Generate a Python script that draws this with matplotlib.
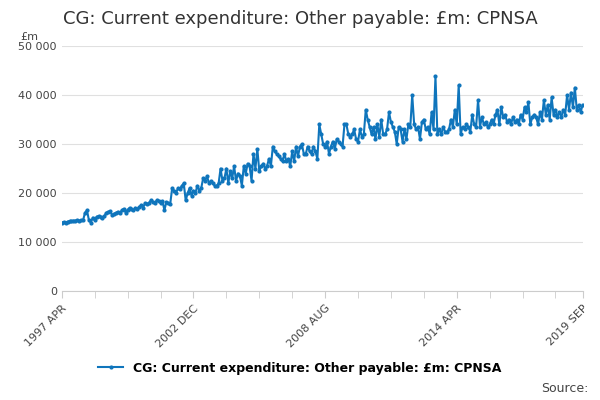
import numpy as np
import matplotlib.pyplot as plt

# monthly values, 1997 APR .. 2019 SEP (£m)
y1997 = [14000, 14100, 14000, 14200, 14300, 14300, 14400, 14400, 14500]
y1998 = [14400, 14500, 14500, 16000, 16500, 14500, 14000, 15000, 14500, 15200, 15300, 15200]
y1999 = [15000, 15300, 16000, 16200, 16300, 15500, 15800, 16000, 16200, 15900, 16500, 16800]
y2000 = [16000, 16600, 17000, 16800, 16500, 17000, 16700, 17200, 17500, 17000, 18000, 17800]
y2001 = [18000, 18500, 18200, 18000, 18500, 18300, 18000, 18400, 16500, 18200, 18000, 17800]
y2002 = [21000, 20500, 20000, 21000, 20800, 21500, 22000, 18500, 20000, 21000, 19500, 20500]
y2003 = [20000, 21500, 20500, 21000, 23000, 22500, 23500, 22000, 22500, 22000, 21500, 21500]
y2004 = [22000, 25000, 22500, 23000, 25000, 22000, 24500, 23000, 25500, 22500, 24000, 23500]
y2005 = [21500, 25500, 24000, 26000, 25500, 22500, 28000, 25000, 29000, 24500, 25500, 26000]
y2006 = [25000, 25500, 27000, 25500, 29500, 28500, 28000, 27500, 27000, 26500, 28000, 26500]
y2007 = [27000, 25500, 28500, 26500, 29500, 27500, 29500, 30000, 28000, 28000, 29500, 28500]
y2008 = [28000, 29500, 28500, 27000, 34000, 32000, 30000, 29500, 30500, 28000, 29500, 30500]
y2009 = [29000, 31000, 30500, 30000, 29500, 34000, 34000, 32000, 31500, 32000, 33000, 31000]
y2010 = [30500, 33000, 31500, 32000, 37000, 35000, 33500, 32000, 33500, 31000, 34000, 31500]
y2011 = [35000, 32000, 32000, 33000, 36500, 34500, 33500, 32500, 30000, 33500, 33000, 30500]
y2012 = [33000, 31000, 34000, 33500, 40000, 34000, 33000, 33500, 31000, 34500, 35000, 33000]
y2013 = [33500, 32000, 36500, 33000, 43800, 32000, 33000, 32000, 33500, 32500, 32500, 33000]
y2014 = [35000, 33500, 37000, 34000, 42000, 32000, 33500, 33000, 34000, 33500, 32500, 36000]
y2015 = [34000, 33500, 39000, 33500, 35500, 34000, 34500, 33500, 34000, 35000, 34000, 36000]
y2016 = [37000, 34000, 37500, 35500, 36000, 34500, 35000, 34000, 35500, 34500, 35000, 34000]
y2017 = [36000, 35000, 37500, 36500, 38500, 34000, 35500, 36000, 35500, 34000, 36500, 35000]
y2018 = [39000, 36000, 38000, 35000, 39500, 36000, 37000, 35500, 36500, 35500, 37000, 36000]
y2019 = [40000, 37000, 40500, 37500, 41500, 37000, 38000, 36500, 38000]

values = (y1997 + y1998 + y1999 + y2000 + y2001 + y2002 + y2003 + y2004 + y2005 + y2006
          + y2007 + y2008 + y2009 + y2010 + y2011 + y2012 + y2013 + y2014 + y2015 + y2016
          + y2017 + y2018 + y2019)
label_pos = [0, 68, 136, 204, 269]
label_txt = ['1997 APR', '2002 DEC', '2008 AUG', '2014 APR', '2019 SEP']

x = np.arange(len(values))
fig = plt.figure(figsize=(6, 4), dpi=100)
ax = fig.add_axes([0.103, 0.272, 0.868, 0.613])
color = '#0f75bc'
ax.plot(x, values, color=color, lw=1.5, marker='o', ms=2,
        label='CG: Current expenditure: Other payable: £m: CPNSA')
ax.set_xlim(0, len(values) - 1)
ax.set_ylim(0, 50000)
ax.set_yticks(range(0, 50001, 10000))
ax.set_yticklabels(['0', '10 000', '20 000', '30 000', '40 000', '50 000'], fontsize=8, color='#444444')
ax.set_xticks(range(0, len(values), 17), minor=True)
ax.set_xticks(label_pos)
ax.set_xticklabels(label_txt, rotation=45, ha='right', rotation_mode='anchor', fontsize=8, color='#444444')
ax.tick_params(axis='x', which='both', length=5, color='#cccccc')
ax.tick_params(axis='y', length=0)
ax.grid(axis='y', color='#e0e0e0', lw=0.8)
for s in ['top', 'right', 'left']:
    ax.spines[s].set_visible(False)
ax.spines['bottom'].set_color('#cccccc')
fig.text(0.105, 0.94, 'CG: Current expenditure: Other payable: £m: CPNSA', fontsize=13, color='#333333')
fig.text(0.033, 0.9, '£m', fontsize=8, color='#444444')
fig.legend(loc='lower center', bbox_to_anchor=(0.5, 0.035), frameon=False, fontsize=9,
           prop={'weight': 'bold', 'size': 9})
fig.text(0.98, 0.02, 'Source:', fontsize=9, color='#444444', ha='right')
fig.savefig('out.png')
